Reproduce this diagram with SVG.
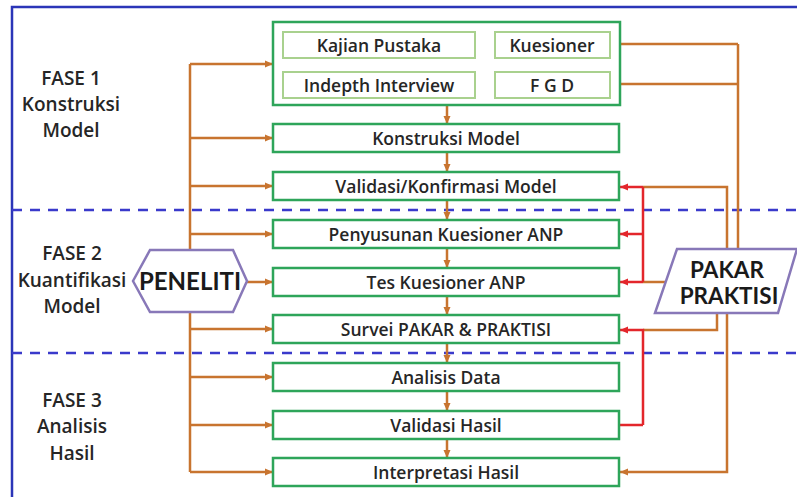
<svg xmlns="http://www.w3.org/2000/svg" width="797" height="497" viewBox="0 0 797 497">
<defs>
<style>
.t{font-family:"Open Sans","Liberation Sans",sans-serif;font-weight:600;fill:#262626;text-anchor:middle}
.big{font-family:Lato,"Open Sans","Liberation Sans",sans-serif;font-weight:bold;fill:#1a1a1a;text-anchor:middle}
.m{font-size:17.5px}
.ph{font-size:19px}
.box{fill:#fff;stroke:#2ea55a;stroke-width:2.5}
.ibox{fill:#fff;stroke:#a9d18e;stroke-width:2}
.or{fill:none;stroke:#c8742f;stroke-width:2.5}
.rd{fill:none;stroke:#e3262b;stroke-width:2.5}
.dash{stroke:#3a3acb;stroke-width:2.5;stroke-dasharray:10 8}
</style>
<marker id="ao" markerUnits="userSpaceOnUse" markerWidth="8" markerHeight="8" refX="8" refY="4" orient="auto"><path d="M0,0.5 L8,4 L0,7.5 z" fill="#c8742f"/></marker>
<marker id="ar" markerUnits="userSpaceOnUse" markerWidth="8" markerHeight="8" refX="8" refY="4" orient="auto"><path d="M0,0.5 L8,4 L0,7.5 z" fill="#e3262b"/></marker>
</defs>
<rect x="0" y="0" width="797" height="497" fill="#fff"/>
<rect x="12" y="7" width="800" height="500" fill="none" stroke="#2b35b8" stroke-width="2.5"/>
<g id="phase-lines">
<line class="dash" x1="12" y1="210" x2="797" y2="210"/>
<line class="dash" x1="12" y1="353" x2="797" y2="353"/>
</g>
<g id="phase1" class="t ph"><text x="71" y="85">FASE 1</text><text x="71" y="111">Konstruksi</text><text x="71" y="137">Model</text></g>
<g id="phase2" class="t ph"><text x="72" y="260">FASE 2</text><text x="72" y="287">Kuantifikasi</text><text x="72" y="313">Model</text></g>
<g id="phase3" class="t ph"><text x="72" y="407">FASE 3</text><text x="72" y="433">Analisis</text><text x="72" y="460">Hasil</text></g>

<g id="connectors">
<path class="or" d="M190,64 V472"/>
<path class="or" marker-end="url(#ao)" d="M190,64 H273"/>
<path class="or" marker-end="url(#ao)" d="M190,138 H273"/>
<path class="or" marker-end="url(#ao)" d="M190,186 H273"/>
<path class="or" marker-end="url(#ao)" d="M190,234 H273"/>
<path class="or" marker-end="url(#ao)" d="M190,282 H273"/>
<path class="or" marker-end="url(#ao)" d="M190,329 H273"/>
<path class="or" marker-end="url(#ao)" d="M190,377 H273"/>
<path class="or" marker-end="url(#ao)" d="M190,425 H273"/>
<path class="or" marker-end="url(#ao)" d="M190,472 H273"/>
<path class="or" marker-end="url(#ao)" d="M447,105 V124"/>
<path class="or" marker-end="url(#ao)" d="M447,152 V172"/>
<path class="or" marker-end="url(#ao)" d="M447,200 V220"/>
<path class="or" marker-end="url(#ao)" d="M447,248 V268"/>
<path class="or" marker-end="url(#ao)" d="M447,296 V315"/>
<path class="or" marker-end="url(#ao)" d="M447,343 V363"/>
<path class="or" marker-end="url(#ao)" d="M447,391 V411"/>
<path class="or" marker-end="url(#ao)" d="M447,439 V458"/>
<line x1="475" y1="45" x2="495" y2="45" stroke="#111" stroke-width="2.5"/>
<line x1="380" y1="58" x2="380" y2="72" stroke="#666" stroke-width="1.2"/>
<line x1="553" y1="58" x2="553" y2="72" stroke="#666" stroke-width="1.2"/>
<path class="or" marker-end="url(#ao)" d="M495,85 H476"/>
<path class="or" d="M738,249 V44"/>
<path class="or" marker-end="url(#ao)" d="M738,44 H611"/>
<path class="or" marker-end="url(#ao)" d="M738,84 H611"/>
<path class="or" d="M727,249 V187 H643"/>
<path class="or" d="M665,282 H643"/>
<path class="or" d="M717,313 V330 H643"/>
<path class="or" marker-end="url(#ao)" d="M727,313 V472 H620"/>
<path class="rd" d="M643,187 V282"/>
<path class="rd" marker-end="url(#ar)" d="M643,187 H620"/>
<path class="rd" marker-end="url(#ar)" d="M643,234 H620"/>
<path class="rd" marker-end="url(#ar)" d="M643,282 H620"/>
<path class="rd" marker-end="url(#ar)" d="M643,425 V330 H620"/>
<path class="rd" d="M643,425 H620"/>
</g>

<g id="top-group"><rect class="box" x="273" y="22" width="347" height="83"/></g>
<g id="kajian"><rect class="ibox" x="283" y="32" width="192" height="26"/><text class="t m" x="379" y="51.5">Kajian Pustaka</text></g>
<g id="kuesioner"><rect class="ibox" x="495" y="32" width="115" height="26"/><text class="t m" x="552" y="51.5">Kuesioner</text></g>
<g id="indepth"><rect class="ibox" x="283" y="72" width="192" height="26"/><text class="t m" x="379" y="91.5">Indepth Interview</text></g>
<g id="fgd"><rect class="ibox" x="495" y="72" width="115" height="26"/><text class="t m" x="552" y="91.5">F G D</text></g>

<g id="konstruksi"><rect class="box" x="273" y="124" width="346" height="28"/><text class="t m" x="446" y="144.5">Konstruksi Model</text></g>
<g id="validasi-model"><rect class="box" x="273" y="172" width="346" height="28"/><text class="t m" x="446" y="192.5">Validasi/Konfirmasi Model</text></g>
<g id="penyusunan"><rect class="box" x="273" y="220" width="346" height="28"/><text class="t m" x="446" y="240.5">Penyusunan Kuesioner ANP</text></g>
<g id="tes"><rect class="box" x="273" y="268" width="346" height="28"/><text class="t m" x="446" y="288.5">Tes Kuesioner ANP</text></g>
<g id="survei"><rect class="box" x="273" y="315" width="346" height="28"/><text class="t m" x="446" y="335.5">Survei PAKAR &amp; PRAKTISI</text></g>
<g id="analisis"><rect class="box" x="273" y="363" width="346" height="28"/><text class="t m" x="446" y="383.5">Analisis Data</text></g>
<g id="validasi-hasil"><rect class="box" x="273" y="411" width="346" height="28"/><text class="t m" x="446" y="431.5">Validasi Hasil</text></g>
<g id="interpretasi"><rect class="box" x="273" y="458" width="346" height="28"/><text class="t m" x="446" y="478.5">Interpretasi Hasil</text></g>

<g id="peneliti"><polygon points="133,281 150,250 233,250 247,281 233,312 150,312" fill="#fff" stroke="#8878b8" stroke-width="2.5"/><text class="big" x="190" y="290" font-size="24">PENELITI</text></g>
<g id="pakar"><polygon points="677,249 797,249 778,313 655,313" fill="#fff" stroke="#8878b8" stroke-width="2.5"/><text class="big" x="727" y="278" font-size="22.5">PAKAR</text><text class="big" x="729" y="304" font-size="22.5">PRAKTISI</text></g>
</svg>
